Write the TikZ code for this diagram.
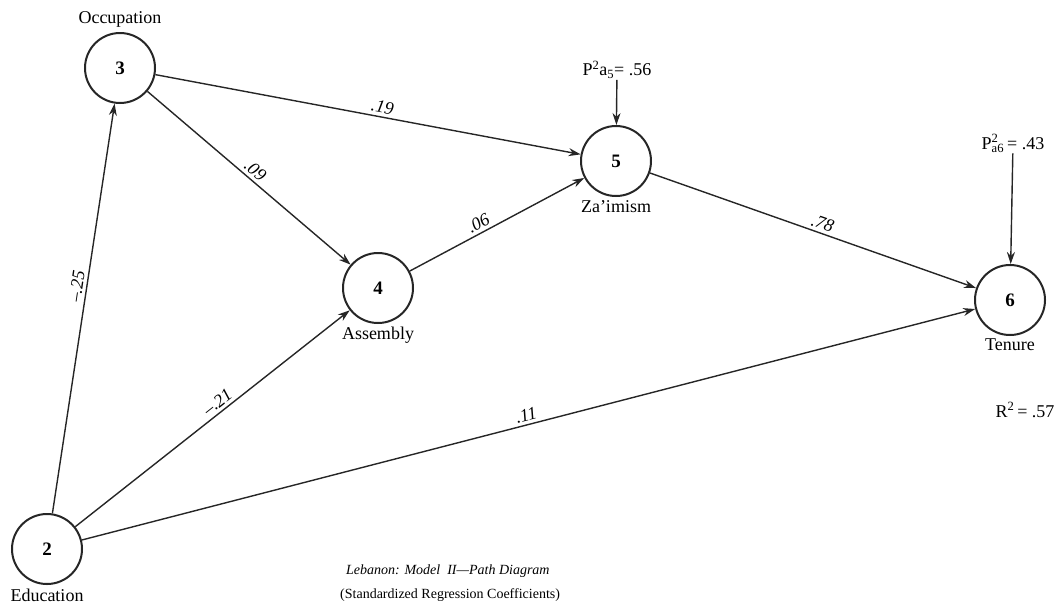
\documentclass[tikz,border=0pt]{standalone}
\usepackage{fontspec}
\setmainfont{Liberation Serif}
\usetikzlibrary{positioning, arrows.meta}

\begin{document}
\begin{tikzpicture}[x=1pt, y=-1pt,
    var/.style={draw=black!85, circle, line width=2pt, minimum size=70pt, inner sep=0pt,
        font=\fontsize{19}{21}\selectfont\bfseries},
    path/.style={-{Stealth[length=12pt, width=8pt]}, draw=black!85, line width=1.4pt},
    coef/.style={font=\fontsize{18}{20}\selectfont\itshape, sloped, above, inner sep=3pt},
    varname/.style={font=\fontsize{18}{20}\selectfont, inner sep=1pt},
    caption/.style={font=\fontsize{14}{15}\selectfont, inner sep=0pt, anchor=west}]
    \useasboundingbox (0,0) rectangle (1054,611);

    % variables
    \node[var] (n2) at (47,549) {2};
    \node[var] (n3) at (120,68) {3};
    \node[var] (n4) at (378,288) {4};
    \node[var] (n5) at (616,161) {5};
    \node[var] (n6) at (1010,300) {6};

    \node[varname] (occ) [above=3pt of n3] {Occupation};
    \node[varname] (edu) [below=3pt of n2] {Education};
    \node[varname] (ass) [below=2pt of n4] {Assembly};
    \node[varname] (zai) [below=2pt of n5] {Za'imism};
    \node[varname] (ten) [below=2pt of n6] {Tenure};

    % residuals
    \node[varname] (p5) at (617,70) {P\textsuperscript{2}a\textsubscript{5}= .56};
    \node[varname] (p6) at (1013,143) {P\rlap{\raisebox{1pt}{\textsuperscript{2}}}\textsubscript{a6}\,= .43};
    \node[varname] (r6) at (1025,410) {R\textsuperscript{2}\,= .57};

    % paths
    \draw[path] (n2) -- node[coef, pos=.55] {--.25} (n3);
    \draw[path] (n2) -- node[coef, pos=.54] {--.21} (n4);
    \draw[path] (n2) -- node[coef, pos=.5] {.11} (n6);
    \draw[path] (n3) -- node[coef, pos=.5] {.09} (n4);
    \draw[path] (n3) -- node[coef, pos=.53] {.19} (n5);
    \draw[path] (n4) -- node[coef, pos=.42] {.06} (n5);
    \draw[path] (n5) -- node[coef, pos=.52] {.78} (n6);
    \draw[path] (p5) -- (n5);
    \draw[path] (p6) -- (n6);

    % caption
    \node[caption] (cap1) at (346,571) {\itshape Lebanon: Model\ \ II---Path Diagram};
    \node[caption] (cap2) at (340,595) {(Standardized Regression Coefficients)};
\end{tikzpicture}
\end{document}
